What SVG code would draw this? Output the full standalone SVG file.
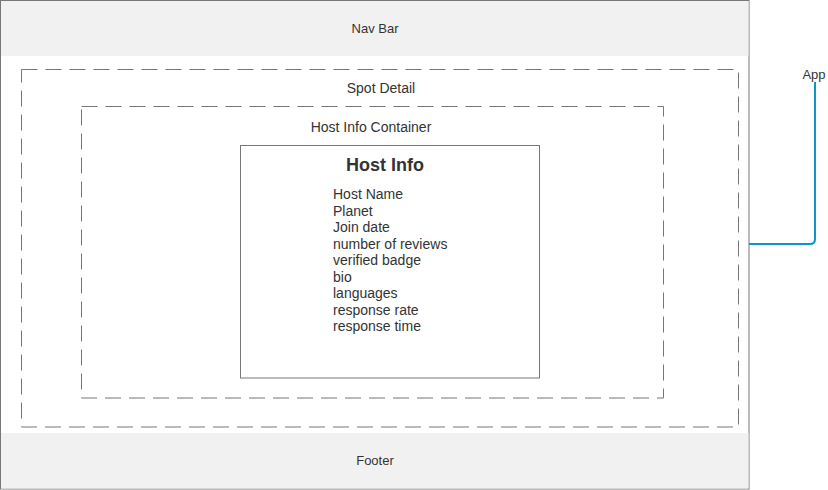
<svg xmlns="http://www.w3.org/2000/svg" width="828" height="490" viewBox="0 0 828 490">
<style>
text{font-family:"Liberation Sans",Arial,sans-serif;fill:#333333}
.lbl{font-size:13px;text-anchor:middle}
.lbl14{font-size:14px;text-anchor:middle}
.dash{fill:none;stroke:#777777;stroke-width:1;stroke-dasharray:16 8}
.item{font-size:14px}
</style>
<g id="app">
<rect x="0.5" y="0.5" width="748.5" height="488.5" fill="#ffffff" stroke="#777777"/>
</g>
<g id="navbar">
<rect x="1" y="1" width="747.5" height="55" fill="#f1f1f1"/>
<text class="lbl" x="375" y="33">Nav Bar</text>
</g>
<g id="footer">
<rect x="1" y="433" width="747.5" height="55.5" fill="#f1f1f1"/>
<text class="lbl" x="375" y="465">Footer</text>
</g>
<g id="spot-detail">
<rect class="dash" x="21.5" y="69.5" width="717" height="357.5"/>
<text class="lbl14" x="381" y="93">Spot Detail</text>
</g>
<g id="host-info-container">
<rect class="dash" x="81.5" y="106.5" width="582" height="291.5"/>
<text class="lbl14" x="371" y="132">Host Info Container</text>
</g>
<g id="host-info">
<rect x="240.5" y="145.5" width="299" height="232.5" fill="#ffffff" stroke="#777777"/>
<text x="385" y="171" font-size="18" font-weight="bold" text-anchor="middle">Host Info</text>
<text class="item" x="333" y="199">Host Name</text>
<text class="item" x="333" y="215.5">Planet</text>
<text class="item" x="333" y="232">Join date</text>
<text class="item" x="333" y="248.5">number of reviews</text>
<text class="item" x="333" y="265">verified badge</text>
<text class="item" x="333" y="281.5">bio</text>
<text class="item" x="333" y="298">languages</text>
<text class="item" x="333" y="314.5">response rate</text>
<text class="item" x="333" y="331">response time</text>
</g>
<g id="app-label">
<text class="lbl" x="814" y="79">App</text>
</g>
<g id="connectors">
<path d="M749 244 H810 Q815 244 815 239 V82" fill="none" stroke="#0f94c8" stroke-width="2"/>
</g>
</svg>
